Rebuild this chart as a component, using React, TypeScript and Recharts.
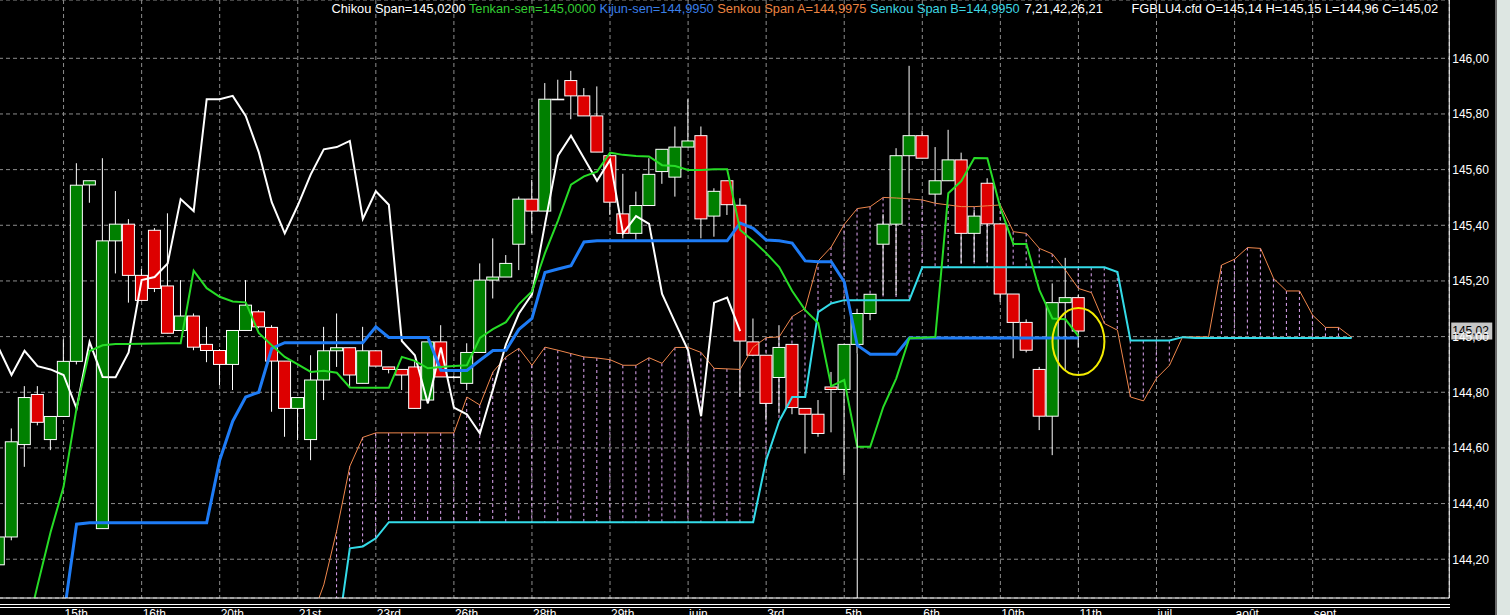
import React from 'react';
import { ComposedChart, Bar, Line, XAxis, YAxis, CartesianGrid, ReferenceLine, ReferenceDot } from 'recharts';

// ---------- data ----------
const FIRST_SLOT = -1;
const LAST_SLOT = 110;
const CANDLE_START = -1;

const candleOpen = [
  144.180, 144.280, 144.612, 144.792, 144.630, 144.713, 144.911, 145.545, 144.310, 145.344,
  145.404, 145.220, 145.382, 145.182, 145.022, 145.074, 144.972, 144.950, 144.900, 145.022,
  145.089, 145.033, 144.912, 144.742, 144.630, 144.844, 144.949, 144.960, 144.832, 144.949,
  144.891, 144.882, 144.891, 144.772, 144.981, 144.855, 144.832, 144.943, 145.203, 145.214,
  145.332, 145.494, 145.451, 145.853, 145.920, 145.865, 145.793, 145.650, 145.441, 145.371,
  145.471, 145.593, 145.573, 145.681, 145.722, 145.433, 145.560, 145.472, 144.981, 144.933,
  144.853, 144.972, 144.742, 144.721, 144.819, 144.810, 144.972, 145.083, 145.332, 145.404,
  145.650, 145.722, 145.512, 145.560, 145.635, 145.371, 145.551, 145.405, 145.153, 145.051,
  144.882, 144.714, 145.122, 145.140,
];
const candleHigh = [
  144.290, 144.670, 144.822, 144.822, 144.713, 144.990, 145.623, 145.560, 145.641, 145.523,
  145.422, 145.243, 145.390, 145.443, 145.203, 145.083, 145.035, 144.955, 145.022, 145.203,
  145.095, 145.041, 144.912, 144.781, 144.933, 145.035, 145.083, 144.960, 145.035, 144.949,
  144.891, 144.882, 144.913, 144.981, 145.041, 144.860, 144.976, 145.263, 145.353, 145.293,
  145.503, 145.563, 145.911, 145.923, 145.955, 145.893, 145.899, 145.660, 145.585, 145.521,
  145.641, 145.673, 145.755, 145.853, 145.755, 145.533, 145.560, 145.497, 145.065, 144.933,
  145.041, 144.972, 144.742, 144.772, 144.873, 144.972, 145.100, 145.152, 145.440, 145.677,
  145.973, 145.740, 145.681, 145.743, 145.661, 145.455, 145.569, 145.405, 145.153, 145.062,
  144.891, 145.191, 145.283, 145.150,
];
const candleLow = [
  144.160, 144.268, 144.532, 144.681, 144.592, 144.713, 144.900, 145.481, 144.310, 145.227,
  145.122, 145.130, 145.160, 145.012, 145.022, 144.951, 144.908, 144.826, 144.808, 145.022,
  145.030, 144.730, 144.640, 144.628, 144.556, 144.772, 144.891, 144.819, 144.832, 144.894,
  144.868, 144.808, 144.742, 144.772, 144.855, 144.850, 144.808, 144.943, 145.137, 145.214,
  145.239, 145.371, 145.451, 145.853, 145.781, 145.793, 145.663, 145.437, 145.353, 145.347,
  145.471, 145.549, 145.503, 145.681, 145.353, 145.359, 145.437, 144.783, 144.933, 144.700,
  144.724, 144.721, 144.580, 144.640, 144.656, 144.502, 144.940, 145.059, 145.149, 145.149,
  145.515, 145.641, 145.480, 145.560, 145.263, 145.268, 145.268, 145.125, 144.922, 144.943,
  144.664, 144.574, 144.879, 144.960,
];
const candleClose = [
  144.280, 144.622, 144.781, 144.692, 144.713, 144.911, 145.544, 145.560, 145.344, 145.404,
  145.220, 145.130, 145.173, 145.012, 145.074, 144.962, 144.950, 144.900, 145.022, 145.113,
  145.035, 144.912, 144.742, 144.781, 144.844, 144.949, 144.960, 144.862, 144.949, 144.894,
  144.882, 144.862, 144.742, 144.981, 144.855, 144.854, 144.943, 145.203, 145.214, 145.263,
  145.494, 145.451, 145.853, 145.853, 145.865, 145.793, 145.663, 145.483, 145.371, 145.471,
  145.583, 145.673, 145.681, 145.703, 145.423, 145.522, 145.474, 144.984, 144.933, 144.760,
  144.961, 144.745, 144.721, 144.652, 144.810, 144.972, 145.083, 145.152, 145.404, 145.650,
  145.722, 145.641, 145.560, 145.635, 145.371, 145.433, 145.405, 145.153, 145.051, 144.951,
  144.714, 145.122, 145.140, 145.020,
];

const TENKAN_START = 1;
const tenkan = [
  143.908, 144.106, 144.297, 144.460, 144.743, 144.948, 144.969, 144.973, 144.973, 144.974,
  144.975, 144.976, 144.976, 145.237, 145.174, 145.143, 145.126, 145.123, 145.013, 144.969,
  144.927, 144.900, 144.873, 144.877, 144.870, 144.817, 144.816, 144.816, 144.816, 144.927,
  144.913, 144.886, 144.891, 144.894, 144.897, 144.995, 145.027, 145.052, 145.117, 145.162,
  145.300, 145.417, 145.546, 145.576, 145.593, 145.661, 145.653, 145.649, 145.647, 145.616,
  145.613, 145.599, 145.599, 145.601, 145.601, 145.383, 145.344, 145.300, 145.250, 145.164,
  145.095, 145.049, 144.822, 144.844, 144.604, 144.604, 144.747, 144.850, 144.994, 144.996,
  144.999, 145.515, 145.559, 145.642, 145.641, 145.462, 145.333, 145.333, 145.167, 145.065,
  145.062, 145.002,
];

const KIJUN_START = 4;
const kijun = [
  143.991, 144.326, 144.331, 144.331, 144.331, 144.331, 144.331, 144.331, 144.331, 144.331,
  144.331, 144.331, 144.556, 144.696, 144.783, 144.800, 144.958, 144.978, 144.978, 144.978,
  144.978, 144.978, 144.978, 144.978, 145.035, 144.997, 144.997, 144.997, 144.997, 144.879,
  144.878, 144.878, 144.915, 144.950, 144.951, 145.026, 145.065, 145.230, 145.243, 145.255,
  145.340, 145.344, 145.344, 145.344, 145.344, 145.344, 145.344, 145.344, 145.344, 145.344,
  145.344, 145.344, 145.408, 145.389, 145.347, 145.344, 145.336, 145.272, 145.269, 145.269,
  145.197, 144.969, 144.937, 144.937, 144.937, 144.995, 144.995, 144.995, 144.995, 144.995,
  144.995, 144.995, 144.995, 144.995, 144.995, 144.995, 144.995, 144.995, 144.995,
];

const CHIKOU_START = -1;
const chikou = [
  144.960, 144.862, 144.949, 144.894, 144.882, 144.862, 144.742, 144.981, 144.855, 144.854,
  144.943, 145.203, 145.214, 145.263, 145.494, 145.451, 145.853, 145.853, 145.865, 145.793,
  145.663, 145.483, 145.371, 145.471, 145.583, 145.673, 145.681, 145.703, 145.423, 145.522,
  145.474, 144.984, 144.933, 144.760, 144.961, 144.745, 144.721, 144.652, 144.810, 144.972,
  145.083, 145.152, 145.404, 145.650, 145.722, 145.641, 145.560, 145.635, 145.371, 145.433,
  145.405, 145.153, 145.051, 144.951, 144.714, 145.122, 145.140, 145.020,
];

const SPAN_A_START = 23;
const senkouA = [
  143.980, 144.108, 144.304, 144.534, 144.638, 144.654, 144.654, 144.654, 144.654, 144.654,
  144.654, 144.654, 144.783, 144.754, 144.873, 144.927, 144.958, 144.897, 144.962, 144.951,
  144.939, 144.927, 144.923, 144.917, 144.897, 144.897, 144.924, 144.904, 144.961, 144.961,
  144.943, 144.886, 144.884, 144.882, 144.962, 144.996, 144.999, 145.072, 145.101, 145.272,
  145.322, 145.403, 145.460, 145.467, 145.500, 145.498, 145.495, 145.491, 145.479, 145.473,
  145.467, 145.467, 145.470, 145.473, 145.377, 145.371, 145.317, 145.297, 145.239, 145.173,
  145.158, 145.047, 145.023, 144.783, 144.769, 144.850, 144.897, 144.999, 144.999, 144.999,
  145.257, 145.278, 145.320, 145.317, 145.209, 145.164, 145.164, 145.077, 145.033, 145.033,
  144.9975,
];

const SPAN_B_START = 25;
const senkouB = [
  143.908, 144.239, 144.246, 144.275, 144.333, 144.333, 144.333, 144.333, 144.333, 144.333,
  144.333, 144.333, 144.333, 144.333, 144.333, 144.333, 144.333, 144.333, 144.333, 144.333,
  144.333, 144.333, 144.333, 144.333, 144.333, 144.333, 144.333, 144.333, 144.333, 144.333,
  144.333, 144.333, 144.333, 144.556, 144.696, 144.783, 144.783, 145.088, 145.119, 145.131,
  145.131, 145.131, 145.131, 145.131, 145.131, 145.249, 145.249, 145.249, 145.249, 145.249,
  145.249, 145.249, 145.249, 145.249, 145.249, 145.249, 145.249, 145.249, 145.249, 145.249,
  145.232, 144.986, 144.986, 144.986, 144.986, 144.998, 144.995, 144.995, 144.995, 144.995,
  144.995, 144.995, 144.995, 144.995, 144.995, 144.995, 144.995, 144.995, 144.995,
];

const xTickIndex = [4, 10, 16, 22, 28, 34, 40, 46, 52, 58, 64, 70, 76, 82, 88, 94, 100];
const xTickLabels = ['15th', '16th', '20th', '21st', '23rd', '26th', '28th', '29th', 'juin', '3rd', '5th', '6th', '10th', '11th', 'juil', 'août', 'sept'];
const yTicks = [144.2, 144.4, 144.6, 144.8, 145.0, 145.2, 145.4, 145.6, 145.8, 146.0];
const Y_DOMAIN: [number, number] = [144.0607, 146.2095];
const lastClose = 145.02;
const markerIndex = 82;
const markerValue = 144.982;
const cursorIndex = 65;
const cursorFrom = 144.94;

const headerItems = [
  { text: 'Chikou Span=145,0200', color: '#ffffff' },
  { text: 'Tenkan-sen=145,0000', color: '#33cc33' },
  { text: 'Kijun-sen=144,9950', color: '#3a7ee6' },
  { text: 'Senkou Span A=144,9975', color: '#ec8440' },
  { text: 'Senkou Span B=144,9950', color: '#3ed6e2' },
];
const periodsText = '7,21,42,26,21';
const quoteText = 'FGBLU4.cfd O=145,14 H=145,15 L=144,96 C=145,02';

// ---------- styles ----------
const FONT = '"Liberation Sans", Arial, sans-serif';
const GREEN_BODY = '#008000';
const RED_BODY = '#dd0000';
const HATCH = '#e2a8f6';
const C_TENKAN = '#27dc27';
const C_KIJUN = '#1e7cf6';
const C_SPAN_A = '#f0874c';
const C_SPAN_B = '#33dbe8';

function valueAt(arr: number[], start: number, i: number): number | null {
  const k = i - start;
  return k >= 0 && k < arr.length ? arr[k] : null;
}

const rows: any[] = [];
for (let i = FIRST_SLOT; i <= LAST_SLOT; i++) {
  const o = valueAt(candleOpen, CANDLE_START, i);
  const h = valueAt(candleHigh, CANDLE_START, i);
  const l = valueAt(candleLow, CANDLE_START, i);
  const c = valueAt(candleClose, CANDLE_START, i);
  const a = valueAt(senkouA, SPAN_A_START, i);
  const b = valueAt(senkouB, SPAN_B_START, i);
  const vals: number[] = [];
  if (h != null) vals.push(h);
  if (l != null) vals.push(l);
  if (a != null && b != null) { vals.push(a); vals.push(b); }
  rows.push({
    i, o, h, l, c, a, b,
    t: valueAt(tenkan, TENKAN_START, i),
    k: valueAt(kijun, KIJUN_START, i),
    ch: valueAt(chikou, CHIKOU_START, i),
    span: vals.length ? [Math.min(...vals), Math.max(...vals)] : null,
  });
}

const fmt = (v: number) => v.toFixed(2).replace('.', ',');

function CandleCloudShape(props: any) {
  const { x, y, width, height, payload } = props;
  if (!payload || !payload.span) return <g />;
  const lo = payload.span[0];
  const hi = payload.span[1];
  const cx = x + width / 2;
  const py = (v: number) => (hi === lo ? y : y + ((hi - v) / (hi - lo)) * height);
  const parts: any[] = [];
  if (payload.a != null && payload.b != null) {
    parts.push(
      <line key="h" x1={cx} x2={cx} y1={py(Math.max(payload.a, payload.b))} y2={py(Math.min(payload.a, payload.b))}
        stroke={HATCH} strokeWidth={1} strokeDasharray="3 3" />
    );
  }
  if (payload.o != null) {
    const up = payload.c >= payload.o;
    const top = py(Math.max(payload.o, payload.c));
    const bot = py(Math.min(payload.o, payload.c));
    parts.push(<line key="w" x1={cx} x2={cx} y1={py(payload.h)} y2={py(payload.l)} stroke="#ffffff" strokeWidth={1} />);
    parts.push(
      <rect key="b" x={cx - 6} y={top} width={12} height={Math.max(bot - top, 0.6)}
        fill={up ? GREEN_BODY : RED_BODY} stroke="#ffffff" strokeWidth={1} />
    );
  }
  return <g>{parts}</g>;
}

function XTick(props: any) {
  const { x, y, payload } = props;
  const idx = xTickIndex.indexOf(payload.value);
  return (
    <text x={x + 1} y={y + 19.5} fill="#ffffff" fontSize={12} fontFamily={FONT} textAnchor="start">
      {idx >= 0 ? xTickLabels[idx] : ''}
    </text>
  );
}

function YTick(props: any) {
  const { x, y, payload } = props;
  return (
    <text x={x} y={y + 4.3} fill="#ffffff" fontSize={12} fontFamily={FONT} textAnchor="start">
      {fmt(payload.value)}
    </text>
  );
}

function PriceTag(props: any) {
  const vb = props.viewBox || {};
  const x0 = (vb.x || 0) + (vb.width || 0);
  const yy = vb.y || 0;
  return (
    <g>
      <rect x={x0 + 2} y={yy - 8.5} width={41} height={17} fill="#c6c6c6" />
      <text x={x0 + 3} y={yy + 4.3} fill="#000000" fontSize={12} fontFamily={FONT}>{fmt(lastClose)}</text>
    </g>
  );
}

function EllipseMark(props: any) {
  return <ellipse cx={props.cx} cy={props.cy} rx={26} ry={33.5} fill="none" stroke="#f4ec00" strokeWidth={2} />;
}

const headerStyle: React.CSSProperties = {
  position: 'absolute', top: 2, fontFamily: FONT, fontSize: 12.8, lineHeight: '14px', whiteSpace: 'nowrap',
};

export default function App() {
  return (
    <div style={{ position: 'absolute', left: 0, top: 0, width: 1510, height: 615, background: '#000', overflow: 'hidden' }}>
      <div style={{ position: 'absolute', left: -8.25, top: 0 }}>
        <ComposedChart width={1517.25} height={620} data={rows} margin={{ top: 0, right: 0, bottom: 0, left: 0 }}>
          <CartesianGrid stroke="#8c8c8c" strokeDasharray="4 3" />
          <XAxis dataKey="i" type="category" ticks={xTickIndex} interval={0} height={22}
            axisLine={{ stroke: '#ffffff' }} tickLine={false} tickSize={0} tickMargin={0} tick={<XTick />} />
          <YAxis orientation="right" type="number" domain={Y_DOMAIN} allowDataOverflow ticks={yTicks} interval={0} width={60}
            axisLine={{ stroke: '#ffffff' }} tickLine={false} tickSize={0} tickMargin={3} tick={<YTick />} />
          <Bar dataKey="span" isAnimationActive={false} shape={<CandleCloudShape />} />
          <Line type="linear" dataKey="a" stroke={C_SPAN_A} strokeWidth={1} dot={false} activeDot={false} isAnimationActive={false} />
          <Line type="linear" dataKey="b" stroke={C_SPAN_B} strokeWidth={2} dot={false} activeDot={false} isAnimationActive={false} />
          <Line type="linear" dataKey="ch" stroke="#ffffff" strokeWidth={2} dot={false} activeDot={false} isAnimationActive={false} />
          <Line type="linear" dataKey="k" stroke={C_KIJUN} strokeWidth={3} dot={false} activeDot={false} isAnimationActive={false} />
          <Line type="linear" dataKey="t" stroke={C_TENKAN} strokeWidth={2} dot={false} activeDot={false} isAnimationActive={false} />
          <ReferenceLine segment={[{ x: cursorIndex, y: cursorFrom }, { x: cursorIndex, y: Y_DOMAIN[0] }]} stroke="#ffffff" strokeWidth={1} ifOverflow="visible" />
          <ReferenceDot x={markerIndex} y={markerValue} r={30} shape={<EllipseMark />} ifOverflow="visible" />
          <ReferenceLine y={lastClose} stroke="none" ifOverflow="visible" label={<PriceTag />} />
        </ComposedChart>
      </div>
      <div style={{ position: 'absolute', left: 0, top: 604, width: 1450, height: 1, background: '#fff' }} />
      <div style={{ position: 'absolute', left: 0, top: 607, width: 1450, height: 1, background: '#fff' }} />
      <div style={{ position: 'absolute', left: 1495, top: 0, width: 2, height: 615, background: '#6a6a6a' }} />
      <div style={{ position: 'absolute', left: 1497, top: 0, width: 13, height: 615, background: '#dde6e2' }} />
      <div style={{ ...headerStyle, left: 331.5 }}>
        {headerItems.map((h, n) => (
          <span key={n} style={{ color: h.color }}>{(n > 0 ? ' ' : '') + h.text}</span>
        ))}
      </div>
      <span style={{ ...headerStyle, left: 1024.5, color: '#ffffff' }}>{periodsText}</span>
      <span style={{ ...headerStyle, left: 1131.5, color: '#ffffff' }}>{quoteText}</span>
    </div>
  );
}
